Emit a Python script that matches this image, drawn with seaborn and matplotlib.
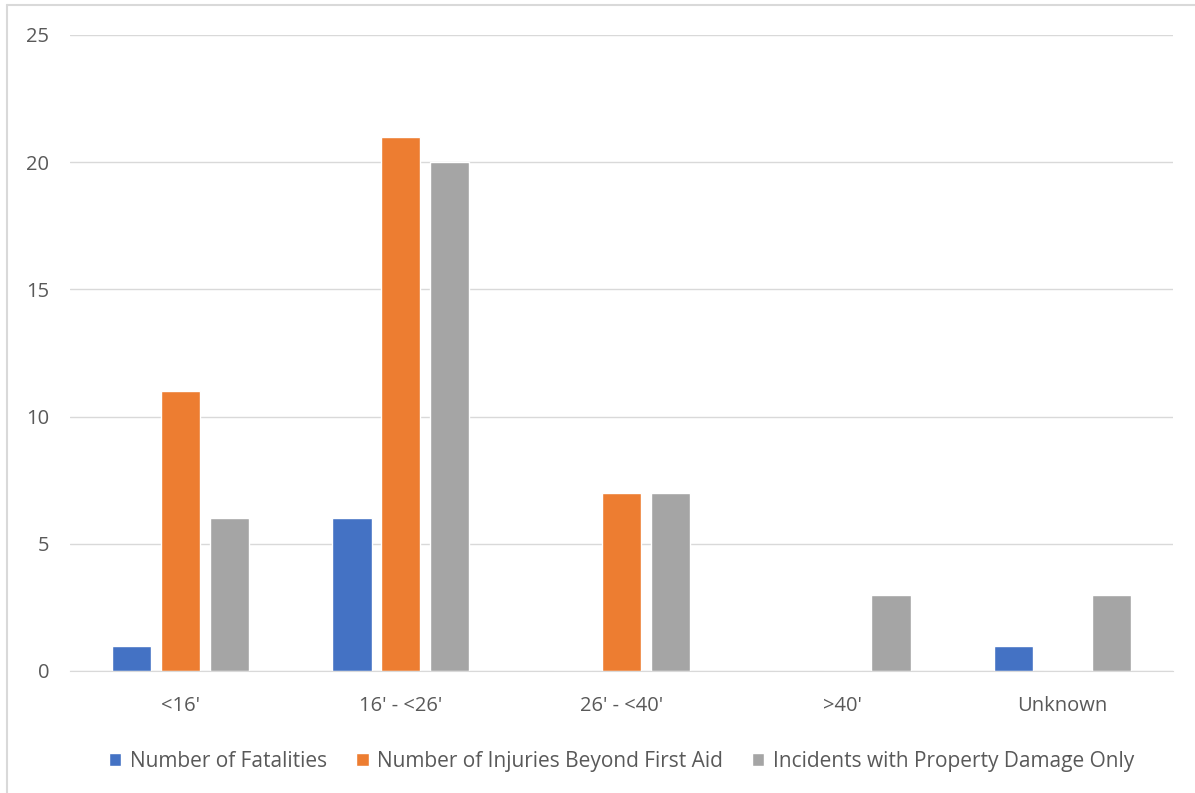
import pandas as pd
import seaborn as sns
import matplotlib.pyplot as plt
from matplotlib.lines import Line2D

categories = ["<16'", "16' - <26'", "26' - <40'", ">40'", "Unknown"]
fatalities = [1, 6, 0, 0, 1]
injuries = [11, 21, 7, 0, 0]
property_only = [6, 20, 7, 3, 3]
series_names = ["Number of Fatalities", "Number of Injuries Beyond First Aid",
                "Incidents with Property Damage Only"]
colors = ["#4472C4", "#ED7D31", "#A5A5A5"]

# long format for seaborn
rows = []
for name, vals in zip(series_names, [fatalities, injuries, property_only]):
    for cat, v in zip(categories, vals):
        rows.append({"Category": cat, "Series": name, "Value": v})
df = pd.DataFrame(rows)

sns.set_style("white")
plt.rcParams['font.family'] = ['Open Sans', 'DejaVu Sans']

W, H = 1195, 793
fig = plt.figure(figsize=(W / 100, H / 100), dpi=100)
ax = fig.add_axes([70 / W, 1 - 671 / H, (1173 - 70) / W, (671 - 35) / H])

sns.barplot(data=df, x="Category", y="Value", hue="Series", order=categories,
            hue_order=series_names, palette=colors, width=0.666, gap=0.2,
            saturation=1, ax=ax, legend=True)

ax.set_ylim(0, 25)
ax.set_xlim(-0.5, 4.5)
ax.set_yticks(range(0, 26, 5))
ax.yaxis.grid(True, color="#D9D9D9", linewidth=1)
ax.set_axisbelow(True)
for s in ["top", "right", "left"]:
    ax.spines[s].set_visible(False)
ax.spines["bottom"].set_color("#D9D9D9")
ax.tick_params(axis="both", length=0, labelsize=14.5, colors="#595959")
ax.tick_params(axis="y", pad=15)
ax.tick_params(axis="x", pad=18)
ax.set_xlabel("")
ax.set_ylabel("")

ax.legend(loc="upper center", bbox_to_anchor=(0.5, -0.096), ncol=3, frameon=False,
          fontsize=15, handlelength=0.6, handleheight=0.6, handletextpad=0.4,
          columnspacing=1.4, labelcolor="#595959")

# chart frame (only top and left edges are visible in the crop)
fig.add_artist(Line2D([7 / W, 1], [1 - 5 / H, 1 - 5 / H], color="#D9D9D9", lw=1.5))
fig.add_artist(Line2D([7 / W, 7 / W], [0, 1 - 5 / H], color="#D9D9D9", lw=1.5))

fig.savefig("out.png", dpi=100)
